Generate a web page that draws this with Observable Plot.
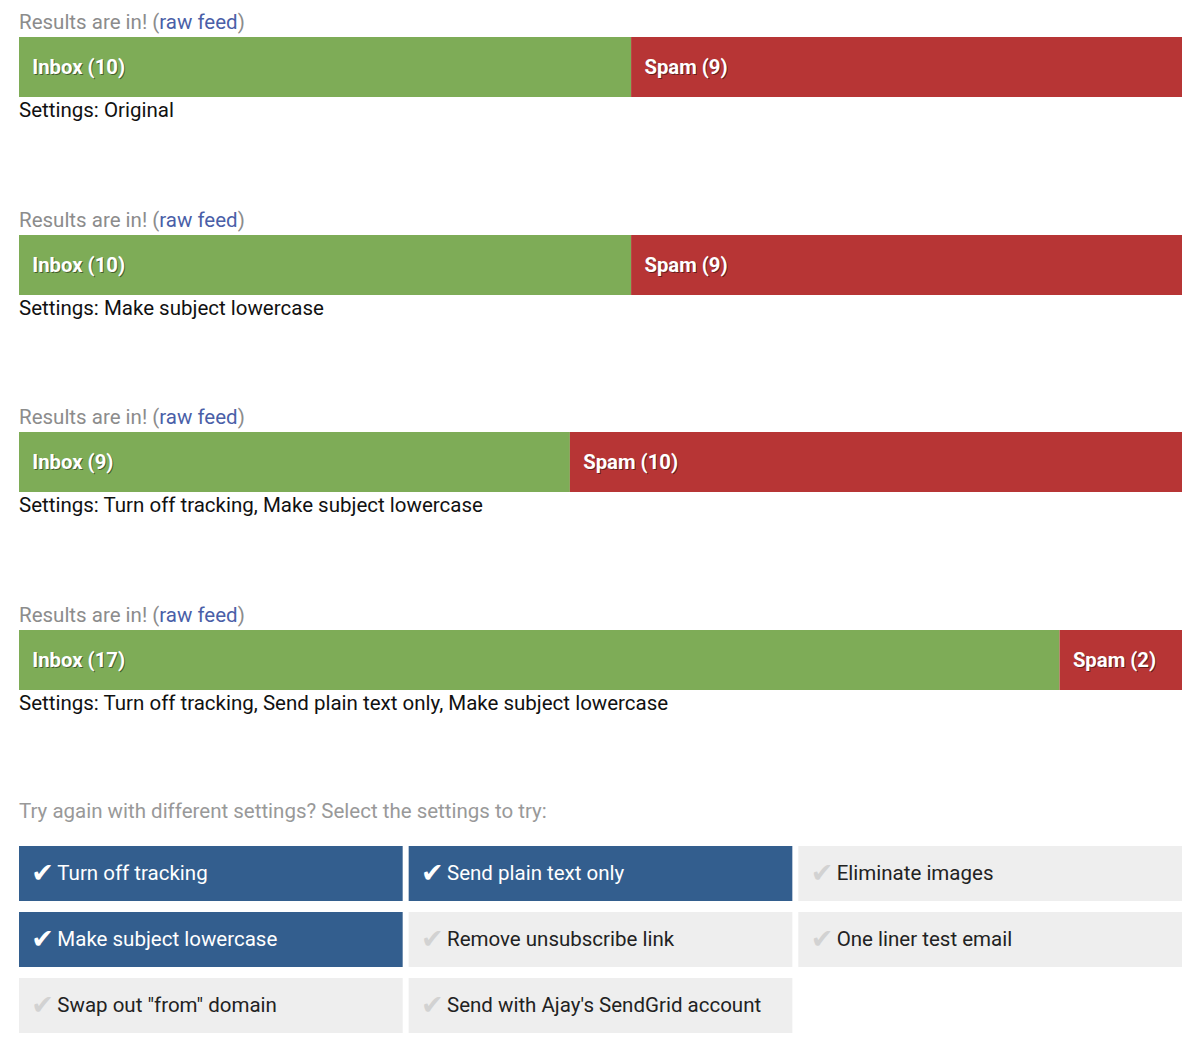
<!DOCTYPE html>
<html>
<head>
<meta charset="utf-8">
<script src="https://cdn.jsdelivr.net/npm/d3@7"></script>
<script src="https://cdn.jsdelivr.net/npm/@observablehq/plot@0.6"></script>
<style>
  html, body { margin: 0; padding: 0; background: #fff; }
  body { font-family: Roboto, "Open Sans", sans-serif; width: 1200px; height: 1056px; position: relative; overflow: hidden; }
  .abs { position: absolute; left: 19px; white-space: nowrap; }
  .head { font-size: 20.5px; line-height: 24px; color: #8c8c8c; }
  .head a { color: #4a5fa8; text-decoration: none; }
  .settings { font-size: 20.5px; line-height: 24px; color: #111; }
  .try { font-size: 20.5px; line-height: 24px; color: #999; }
  svg { display: block; }
</style>
</head>
<body>
<script>
// ---- data ----
const settingsLabels = [
  "Original",
  "Make subject lowercase",
  "Turn off tracking, Make subject lowercase",
  "Turn off tracking, Send plain text only, Make subject lowercase"
];
const inboxCounts = [10, 10, 9, 17];
const spamCounts = [9, 9, 10, 2];
const statusNames = ["Inbox", "Spam"];

const optionLabels = [
  "Turn off tracking", "Send plain text only", "Eliminate images",
  "Make subject lowercase", "Remove unsubscribe link", "One liner test email",
  "Swap out \"from\" domain", "Send with Ajay's SendGrid account"
];
const optionSelected = [true, true, false, true, false, false, false, false];

// ---- styles ----
const GREEN = "#7eac57", RED = "#b73535", BLUE = "#335e8e", GREY = "#eeeeee";
const blockStep = 197.5;

settingsLabels.forEach((label, i) => {
  const off = i * blockStep;
  const head = document.createElement("div");
  head.className = "abs head";
  head.style.top = (10 + off) + "px";
  head.innerHTML = 'Results are in! (<a>raw feed</a>)';
  document.body.appendChild(head);

  const rows = [
    {status: statusNames[0], n: inboxCounts[i]},
    {status: statusNames[1], n: spamCounts[i]}
  ];
  const lbl = d => `${d.status} (${d.n})`;
  const chart = Plot.plot({
    width: 1163, height: 60,
    margin: 0,
    x: {domain: [0, inboxCounts[i] + spamCounts[i]], axis: null},
    color: {domain: statusNames, range: [GREEN, RED]},
    style: {fontFamily: "Roboto, sans-serif", background: "transparent"},
    marks: [
      Plot.barX(rows, {x: "n", fill: "status", inset: 0}),
      Plot.text(rows, Plot.stackX1({x: "n", text: lbl, textAnchor: "start", dx: 13.8, dy: 1.2,
        fill: "#000", fillOpacity: 0.45, fontSize: 20.3, fontWeight: "bold"})),
      Plot.text(rows, Plot.stackX1({x: "n", text: lbl, textAnchor: "start", dx: 12.8,
        fill: "#fff", fontSize: 20.3, fontWeight: "bold"}))
    ]
  });
  const wrap = document.createElement("div");
  wrap.className = "abs";
  wrap.style.top = (37 + off) + "px";
  wrap.appendChild(chart);
  document.body.appendChild(wrap);

  const st = document.createElement("div");
  st.className = "abs settings";
  st.style.top = (98 + off) + "px";
  st.textContent = "Settings: " + label;
  document.body.appendChild(st);
});

const tryDiv = document.createElement("div");
tryDiv.className = "abs try";
tryDiv.style.top = "799px";
tryDiv.textContent = "Try again with different settings? Select the settings to try:";
document.body.appendChild(tryDiv);

const opts = optionLabels.map((label, i) => ({
  label, selected: optionSelected[i], col: i % 3, row: Math.floor(i / 3)
}));
const grid = Plot.plot({
  width: 1163, height: 187,
  margin: 0,
  x: {type: "band", domain: [0, 1, 2], paddingInner: 6 / 390, paddingOuter: 0, round: false, axis: null},
  y: {type: "band", domain: [0, 1, 2], paddingInner: 11 / 66, paddingOuter: 0, round: false, axis: null},
  style: {fontFamily: "Roboto, sans-serif", background: "transparent"},
  marks: [
    Plot.cell(opts, {x: "col", y: "row", fill: d => d.selected ? BLUE : GREY, inset: 0}),
    Plot.text(opts, {x: "col", y: "row", text: () => "\u2714", textAnchor: "start", dx: -180, dy: -1,
      fill: d => d.selected ? "#fff" : "#d2d2d2", fontSize: 27, fontFamily: "DejaVu Sans"}),
    Plot.text(opts, {x: "col", y: "row", text: "label", textAnchor: "start", dx: -154, dy: -1,
      fill: d => d.selected ? "#fff" : "#222", fontSize: 20.5})
  ]
});
const gw = document.createElement("div");
gw.className = "abs";
gw.style.top = "846px";
gw.appendChild(grid);
document.body.appendChild(gw);
</script>
</body>
</html>
